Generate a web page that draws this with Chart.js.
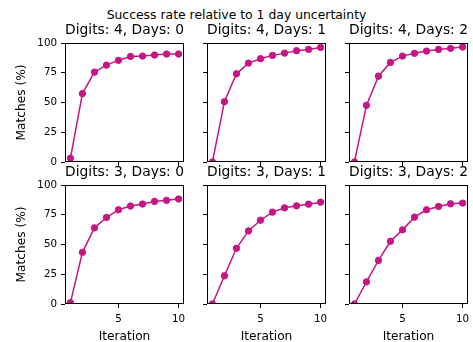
<!DOCTYPE html>
<html lang="en">
<head>
<meta charset="UTF-8">
<title>Success rate relative to 1 day uncertainty</title>
<script src="https://cdn.jsdelivr.net/npm/chart.js@4.4.0/dist/chart.umd.min.js"></script>
<style>
    body { margin: 0; background: #fff; overflow: hidden; }
    #fig { position: relative; width: 473px; height: 342px; overflow: hidden; }
    #fig canvas { position: absolute; left: 0; top: 0; }
    #suptitle {
        position: absolute; left: 0; top: 5px; width: 473px;
        text-align: center; font-family: 'DejaVu Sans'; font-size: 12.4px;
        line-height: 19px; color: #000;
    }
</style>
</head>
<body>
<div id="fig">
    <div id="suptitle">Success rate relative to 1 day uncertainty</div>
</div>
<script>
// data
var iterations = [1, 2, 3, 4, 5, 6, 7, 8, 9, 10];
var d4Days0 = [3.1, 57.5, 75.5, 81.4, 85.4, 88.7, 89.0, 89.9, 90.7, 90.7];
var d4Days1 = [0, 50.7, 74.1, 83.1, 86.8, 89.6, 91.5, 93.5, 94.6, 96.3];
var d4Days2 = [0, 47.6, 72.1, 83.7, 89.0, 91.3, 93.2, 94.6, 95.5, 96.6];
var d3Days0 = [1.1, 43.4, 64.0, 72.7, 79.2, 82.3, 84.0, 86.2, 87.1, 88.2];
var d3Days1 = [0, 23.7, 46.8, 61.4, 70.4, 77.2, 80.8, 82.5, 83.9, 85.6];
var d3Days2 = [0, 18.6, 36.6, 52.7, 62.3, 73.0, 79.2, 82.0, 84.2, 84.8];
var xTicks = [5, 10];
var yTicks = [0, 25, 50, 75, 100];
var titles = ['Digits: 4, Days: 0', 'Digits: 4, Days: 1', 'Digits: 4, Days: 2',
              'Digits: 3, Days: 0', 'Digits: 3, Days: 1', 'Digits: 3, Days: 2'];
var series = [d4Days0, d4Days1, d4Days2, d3Days0, d3Days1, d3Days2];

var lineColor = '#c71585';
var W = 473, H = 344;
var colLeft = [65, 207, 349], axWidth = 119;
var rowTop = [43, 185], axHeight = 119;
var titleSize = 14.4, titlePad = 4.4;
var tickSize = 10.3, labelSize = 12.2;

Chart.defaults.font.family = "'DejaVu Sans'";
Chart.defaults.color = '#000';

// matplotlib style box round the axes
var frame = {
    id: 'frame',
    afterDatasetsDraw: function(chart) {
        var a = chart.chartArea, ctx = chart.ctx;
        ctx.save();
        ctx.strokeStyle = '#000';
        ctx.lineWidth = 1;
        ctx.strokeRect(a.left + 0.5, a.top + 0.5, a.right - a.left - 1, a.bottom - a.top - 1);
        ctx.restore();
    }
};

series.forEach(function(vals, i) {
    var col = i % 3, row = Math.floor(i / 3);
    var L = colLeft[col], R = L + axWidth, T = rowTop[row], B = T + axHeight;
    var firstCol = col == 0, lastRow = row == 1;
    var yw = firstCol ? L : 12;
    var xh = lastRow ? H - B : 6;
    var titleH = titleSize * 1.2 + titlePad;

    var canvas = document.createElement('canvas');
    canvas.width = W;
    canvas.height = H;
    document.getElementById('fig').appendChild(canvas);

    new Chart(canvas, {
        type: 'line',
        data: {
            datasets: [{
                data: iterations.map(function(x, k) { return {x: x, y: vals[k]}; }),
                borderColor: lineColor,
                backgroundColor: lineColor,
                borderWidth: 1.5,
                pointRadius: 3.2,
                pointBorderWidth: 1,
                pointBackgroundColor: lineColor,
                pointBorderColor: lineColor,
                tension: 0,
                clip: 0
            }]
        },
        options: {
            responsive: false,
            animation: false,
            events: [],
            layout: {
                padding: {left: L - yw, right: W - R, top: T - titleH, bottom: H - B - xh}
            },
            plugins: {
                legend: {display: false},
                tooltip: {enabled: false},
                title: {
                    display: true,
                    text: titles[i],
                    fullSize: false,
                    color: '#000',
                    font: {size: titleSize, weight: 'normal'},
                    padding: {top: 0, bottom: titlePad}
                }
            },
            scales: {
                x: {
                    type: 'linear',
                    min: 0.55,
                    max: 10.45,
                    afterBuildTicks: function(s) { s.ticks = xTicks.map(function(v) { return {value: v}; }); },
                    afterFit: function(s) { s.height = xh; s.paddingLeft = 0; s.paddingRight = 0; },
                    border: {display: false},
                    grid: {drawOnChartArea: false, color: '#000', tickLength: 4},
                    ticks: {display: lastRow, color: '#000', font: {size: tickSize}, padding: 5, maxRotation: 0},
                    title: {display: lastRow, text: 'Iteration', color: '#000', font: {size: labelSize}, padding: 0}
                },
                y: {
                    min: 0,
                    max: 100,
                    afterBuildTicks: function(s) { s.ticks = yTicks.map(function(v) { return {value: v}; }); },
                    afterFit: function(s) { s.width = yw; s.paddingTop = 0; s.paddingBottom = 0; },
                    border: {display: false},
                    grid: {drawOnChartArea: false, color: '#000', tickLength: 4},
                    ticks: {display: firstCol, color: '#000', font: {size: tickSize}, padding: 4},
                    title: {display: firstCol, text: 'Matches (%)', color: '#000', font: {size: labelSize}, padding: {top: 15, bottom: 0}}
                }
            }
        },
        plugins: [frame]
    });
});
</script>
</body>
</html>
